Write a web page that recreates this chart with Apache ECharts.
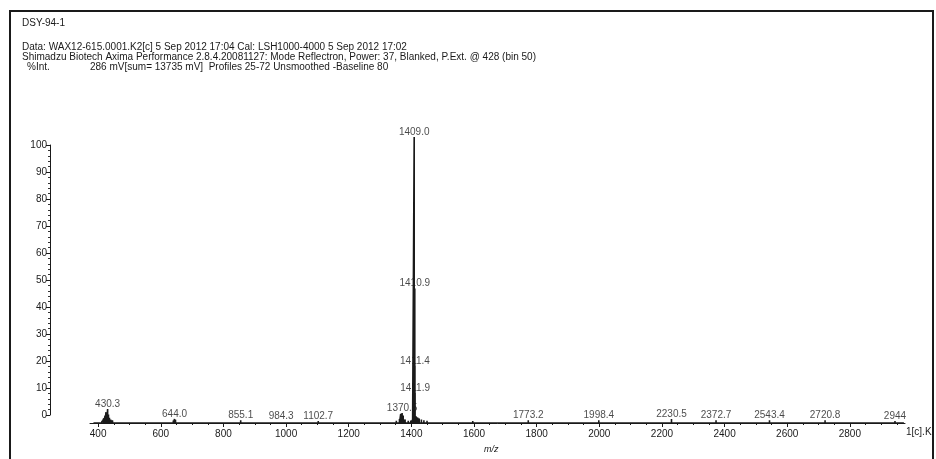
<!DOCTYPE html>
<html>
<head>
<meta charset="utf-8">
<script src="https://cdn.jsdelivr.net/npm/echarts@6/dist/echarts.min.js"></script>
<style>
  html, body { margin: 0; padding: 0; background: #fff; }
  #chart { width: 936px; height: 459px; }
</style>
</head>
<body>
<div id="chart"></div>
<script>
// 标注的峰 (m/z, %Int)
var peakMz = [430.3, 644.0, 855.1, 984.3, 1102.7, 1370.5, 1409.0, 1410.9, 1411.4, 1411.9,
              1773.2, 1998.4, 2230.5, 2372.7, 2543.4, 2720.8, 2944];
var peakInt = [4.9, 1.4, 1.0, 0.5, 0.7, 3.5, 100, 47, 20, 10.5,
               1.0, 1.0, 1.4, 1.0, 1.0, 1.0, 0.7];
var peakLabels = ['430.3', '644.0', '855.1', '984.3', '1102.7', '1370.5', '1409.0', '1410.9',
                  '1411.4', '1411.9', '1773.2', '1998.4', '2230.5', '2372.7', '2543.4', '2720.8', '2944'];

// 基线噪声
var noiseMz = [385, 398, 412, 418, 422, 425, 427, 433, 436, 440, 446, 455, 468, 480, 497, 512,
               530, 548, 566, 585, 604, 622, 640, 647, 652, 670, 690, 712, 735, 758, 780, 800,
               822, 845, 860, 878, 900, 925, 950, 968, 995, 1020, 1045, 1070, 1095, 1120, 1145,
               1170, 1195, 1220, 1245, 1270, 1295, 1320, 1340, 1352, 1362, 1366, 1374, 1380,
               1390, 1398, 1404, 1415, 1420, 1425, 1432, 1440, 1450, 1462, 1480, 1500, 1525,
               1550, 1575, 1596, 1620, 1645, 1670, 1695, 1720, 1745, 1760, 1790, 1815, 1840,
               1865, 1890, 1915, 1940, 1965, 1985, 2010, 2040, 2065, 2090, 2110, 2140, 2165,
               2190, 2215, 2245, 2270, 2300, 2330, 2355, 2390, 2420, 2450, 2480, 2510, 2530,
               2560, 2590, 2620, 2650, 2680, 2705, 2740, 2770, 2800, 2830, 2860, 2890, 2920,
               2955, 2970];
var noiseInt = [0.3, 0.5, 0.8, 1.6, 2.6, 3.8, 2.2, 3.0, 1.8, 1.2, 0.9, 0.6, 0.5, 0.4, 0.6, 0.4,
                0.5, 0.3, 0.5, 0.4, 0.3, 0.5, 0.9, 1.1, 0.6, 0.4, 0.3, 0.5, 0.3, 0.4, 0.3, 0.5,
                0.4, 0.3, 0.5, 0.3, 0.4, 0.3, 0.6, 0.4, 0.3, 0.4, 0.3, 0.4, 0.3, 0.4, 0.3,
                0.4, 0.3, 0.5, 0.3, 0.4, 0.3, 0.4, 0.5, 0.8, 1.4, 3.2, 2.6, 1.2,
                0.8, 0.9, 1.2, 2.4, 1.9, 1.6, 1.2, 1.0, 0.8, 0.6, 0.5, 0.5, 0.4,
                0.3, 0.4, 0.7, 0.3, 0.4, 0.3, 0.4, 0.3, 0.4, 0.5, 0.3, 0.4, 0.3,
                0.4, 0.3, 0.5, 0.3, 0.4, 0.5, 0.3, 0.4, 0.3, 0.4, 0.5, 0.3, 0.4,
                0.3, 0.4, 0.3, 0.4, 0.5, 0.3, 0.4, 0.3, 0.4, 0.3, 0.4, 0.3, 0.5,
                0.3, 0.4, 0.3, 0.4, 0.3, 0.5, 0.3, 0.4, 0.3, 0.4, 0.3, 0.4, 0.3,
                0.4, 0.3];

// 刻度
var xTicks = [400, 600, 800, 1000, 1200, 1400, 1600, 1800, 2000, 2200, 2400, 2600, 2800];
var xMinorTicks = [];
for (var v = 400; v <= 2950; v += 50) { if (v % 200 !== 0) xMinorTicks.push(v); }

var chart = echarts.init(document.getElementById('chart'));

// 构造棒状谱线
function buildSticks() {
  var sticks = [];
  var i;
  for (i = 0; i < peakMz.length; i++) sticks.push([peakMz[i], peakInt[i]]);
  for (i = 0; i < noiseMz.length; i++) sticks.push([noiseMz[i], noiseInt[i]]);
  sticks.sort(function (a, b) { return a[0] - b[0]; });
  var pts = [];
  sticks.forEach(function (s) {
    pts.push([s[0], 0]);
    pts.push([s[0], s[1]]);
    pts.push([s[0], 0]);
  });
  return pts;
}

var labelData = peakMz.map(function (m, i) { return [m, peakInt[i], peakLabels[i]]; });

var txt = { fill: '#1a1a1a', fontFamily: 'Liberation Sans', fontSize: 10 };
function textEl(x, y, s, extra) {
  return { type: 'text', left: x, top: y, style: Object.assign({ text: s }, txt, extra || {}) };
}

var option = {
  animation: false,
  backgroundColor: '#fff',
  textStyle: { fontFamily: 'Liberation Sans' },
  grid: [
    { left: 50, top: 145, bottom: 44, width: 1 },
    { left: 90, right: 31, top: 137, bottom: 36 }
  ],
  xAxis: [
    { gridIndex: 0, type: 'value', show: false },
    {
      gridIndex: 1, type: 'value', min: 374, max: 2976, position: 'bottom',
      axisLine: { lineStyle: { color: '#1a1a1a', width: 1 } },
      axisTick: { customValues: xTicks, length: 4, lineStyle: { color: '#1a1a1a' } },
      axisLabel: { customValues: xTicks, color: '#1a1a1a', fontSize: 10, margin: 6,
                   formatter: function (val) { return String(val); } },
      splitLine: { show: false }
    },
    {
      gridIndex: 1, type: 'value', min: 374, max: 2976, position: 'bottom',
      axisLine: { show: false },
      axisTick: { customValues: xMinorTicks, length: 2, lineStyle: { color: '#1a1a1a' } },
      axisLabel: { show: false },
      splitLine: { show: false }
    }
  ],
  yAxis: [
    {
      gridIndex: 0, type: 'value', min: 0, max: 100, interval: 10,
      axisLine: { show: true, lineStyle: { color: '#1a1a1a' } },
      axisTick: { show: true, length: 4, lineStyle: { color: '#1a1a1a' } },
      minorTick: { show: true, splitNumber: 5, length: 2, lineStyle: { color: '#333' } },
      axisLabel: { color: '#1a1a1a', fontSize: 10, margin: 3 },
      splitLine: { show: false }
    },
    { gridIndex: 1, type: 'value', min: 0, max: 100, show: false }
  ],
  series: [
    {
      type: 'line',
      xAxisIndex: 1, yAxisIndex: 1,
      data: buildSticks(),
      symbol: 'none',
      lineStyle: { color: '#1a1a1a', width: 1.6 },
      z: 3
    },
    {
      type: 'scatter',
      xAxisIndex: 1, yAxisIndex: 1,
      data: labelData,
      symbolSize: 0,
      silent: true,
      label: {
        show: true, position: 'top', distance: 0,
        color: '#1a1a1a', fontSize: 10, fontFamily: 'Liberation Sans',
        formatter: function (p) { return p.data[2]; }
      },
      z: 4
    }
  ],
  graphic: [
    textEl(22, 18, 'DSY-94-1'),
    textEl(22, 42, 'Data: WAX12-615.0001.K2[c] 5 Sep 2012 17:04 Cal: LSH1000-4000 5 Sep 2012 17:02'),
    textEl(22, 52, 'Shimadzu Biotech Axima Performance 2.8.4.20081127: Mode Reflectron, Power: 37, Blanked, P.Ext. @ 428 (bin 50)'),
    textEl(27, 62, '%Int.'),
    textEl(90, 62, '286 mV[sum= 13735 mV]  Profiles 25-72 Unsmoothed -Baseline 80'),
    textEl(484, 445, 'm/z', { fontStyle: 'italic', fontSize: 9 }),
    textEl(906, 427, '1[c].K2'),
    { type: 'rect', shape: { x: 934, y: 0, width: 10, height: 459 },
      style: { fill: '#fff' }, z: 9 },
    { type: 'rect', shape: { x: 10, y: 11, width: 923, height: 470 },
      style: { fill: 'none', stroke: '#1a1a1a', lineWidth: 2 }, z: 10 }
  ]
};

chart.setOption(option);
</script>
</body>
</html>
